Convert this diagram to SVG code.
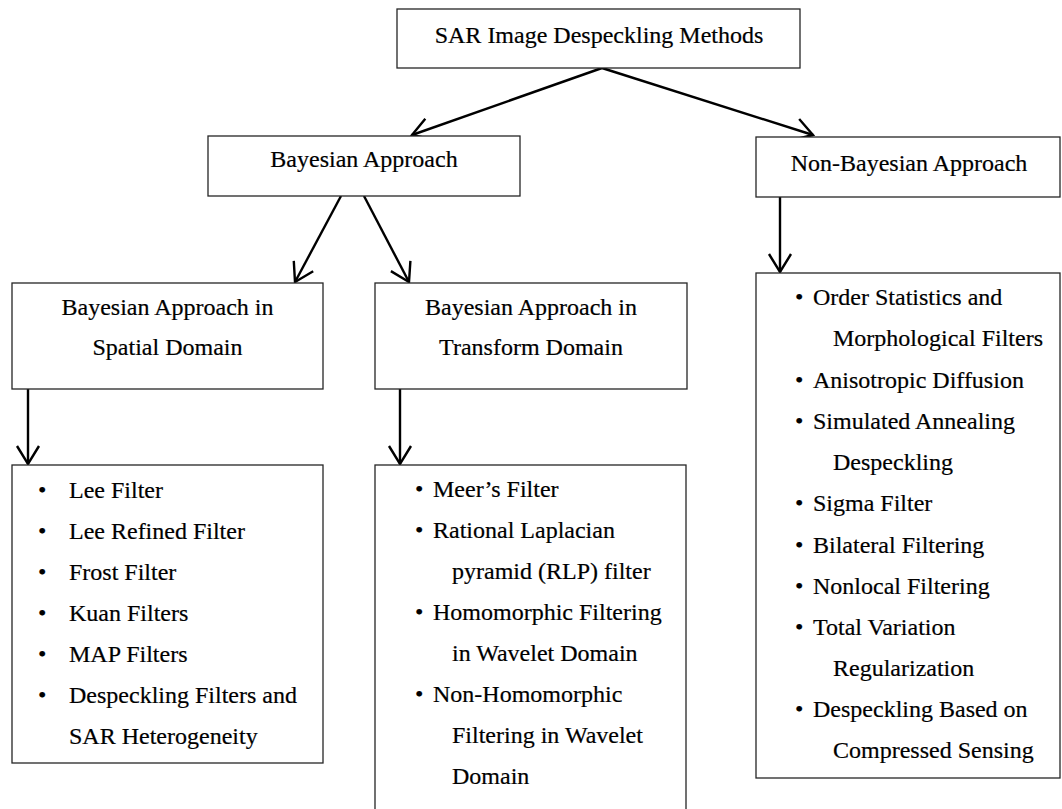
<svg xmlns="http://www.w3.org/2000/svg" width="1062" height="809" viewBox="0 0 1062 809">
  <defs>
    <!-- open V arrowhead, about 18px deep and 22px wide -->
    <marker id="arrow" markerUnits="userSpaceOnUse" markerWidth="40" markerHeight="40" refX="20" refY="20" orient="auto" viewBox="0 0 40 40">
      <path d="M2,9 L20,20 L2,31" fill="none" stroke="#000" stroke-width="2.4" stroke-linejoin="miter"/>
    </marker>
  </defs>
  <style>
    .box { fill: #fff; stroke: #262626; stroke-width: 1.3; }
    .lbl { font-family: "Liberation Serif", "Times New Roman", serif; font-size: 24px; fill: #000; stroke: #000; stroke-width: 0.2; }
    .mid { text-anchor: middle; }
    .conn { stroke: #000; stroke-width: 2.4; fill: none; marker-end: url(#arrow); }
  </style>
  <rect width="1062" height="809" fill="#fff"/>

  <!-- connectors -->
  <g id="connectors">
    <line class="conn" x1="602" y1="68" x2="412" y2="135"/>
    <line class="conn" x1="602" y1="68" x2="813" y2="135"/>
    <line class="conn" x1="341" y1="196" x2="295" y2="282"/>
    <line class="conn" x1="364" y1="196" x2="409" y2="282"/>
    <line class="conn" x1="780" y1="197" x2="780" y2="272"/>
    <line class="conn" x1="28" y1="389" x2="28" y2="464"/>
    <line class="conn" x1="400" y1="389" x2="400" y2="464"/>
  </g>

  <!-- root -->
  <g id="root">
    <rect class="box" x="397" y="9" width="403" height="59"/>
    <text class="lbl mid" x="599" y="43">SAR Image Despeckling Methods</text>
  </g>

  <g id="bayesian">
    <rect class="box" x="208" y="136" width="312" height="60"/>
    <text class="lbl mid" x="364" y="167">Bayesian Approach</text>
  </g>

  <g id="non-bayesian">
    <rect class="box" x="756" y="137" width="304" height="60"/>
    <text class="lbl mid" x="909" y="171">Non-Bayesian Approach</text>
  </g>

  <g id="spatial">
    <rect class="box" x="12" y="283" width="311" height="106"/>
    <text class="lbl mid" x="167.5" y="315">Bayesian Approach in</text>
    <text class="lbl mid" x="167.5" y="355">Spatial Domain</text>
  </g>

  <g id="transform">
    <rect class="box" x="375" y="283" width="312" height="106"/>
    <text class="lbl mid" x="531" y="315">Bayesian Approach in</text>
    <text class="lbl mid" x="531" y="355">Transform Domain</text>
  </g>

  <g id="spatial-list">
    <rect class="box" x="12" y="465" width="311" height="298"/>
    <g class="lbl">
      <text x="38" y="498">•</text><text x="69" y="498">Lee Filter</text>
      <text x="38" y="539">•</text><text x="69" y="539">Lee Refined Filter</text>
      <text x="38" y="580">•</text><text x="69" y="580">Frost Filter</text>
      <text x="38" y="621">•</text><text x="69" y="621">Kuan Filters</text>
      <text x="38" y="662">•</text><text x="69" y="662">MAP Filters</text>
      <text x="38" y="703">•</text><text x="69" y="703">Despeckling Filters and</text>
      <text x="69" y="744">SAR Heterogeneity</text>
    </g>
  </g>

  <g id="transform-list">
    <rect class="box" x="375" y="465" width="311" height="360"/>
    <g class="lbl">
      <text x="415" y="497">•</text><text x="433" y="497">Meer’s Filter</text>
      <text x="415" y="538">•</text><text x="433" y="538">Rational Laplacian</text>
      <text x="452" y="579">pyramid (RLP) filter</text>
      <text x="415" y="620">•</text><text x="433" y="620">Homomorphic Filtering</text>
      <text x="452" y="661">in Wavelet Domain</text>
      <text x="415" y="702">•</text><text x="433" y="702">Non-Homomorphic</text>
      <text x="452" y="743">Filtering in Wavelet</text>
      <text x="452" y="784">Domain</text>
    </g>
  </g>

  <g id="non-bayesian-list">
    <rect class="box" x="756" y="273" width="304" height="505"/>
    <g class="lbl">
      <text x="795" y="305">•</text><text x="813" y="305">Order Statistics and</text>
      <text x="833" y="346">Morphological Filters</text>
      <text x="795" y="388">•</text><text x="813" y="388">Anisotropic Diffusion</text>
      <text x="795" y="429">•</text><text x="813" y="429">Simulated Annealing</text>
      <text x="833" y="470">Despeckling</text>
      <text x="795" y="511">•</text><text x="813" y="511">Sigma Filter</text>
      <text x="795" y="553">•</text><text x="813" y="553">Bilateral Filtering</text>
      <text x="795" y="594">•</text><text x="813" y="594">Nonlocal Filtering</text>
      <text x="795" y="635">•</text><text x="813" y="635">Total Variation</text>
      <text x="833" y="676">Regularization</text>
      <text x="795" y="717">•</text><text x="813" y="717">Despeckling Based on</text>
      <text x="833" y="758">Compressed Sensing</text>
    </g>
  </g>
</svg>
